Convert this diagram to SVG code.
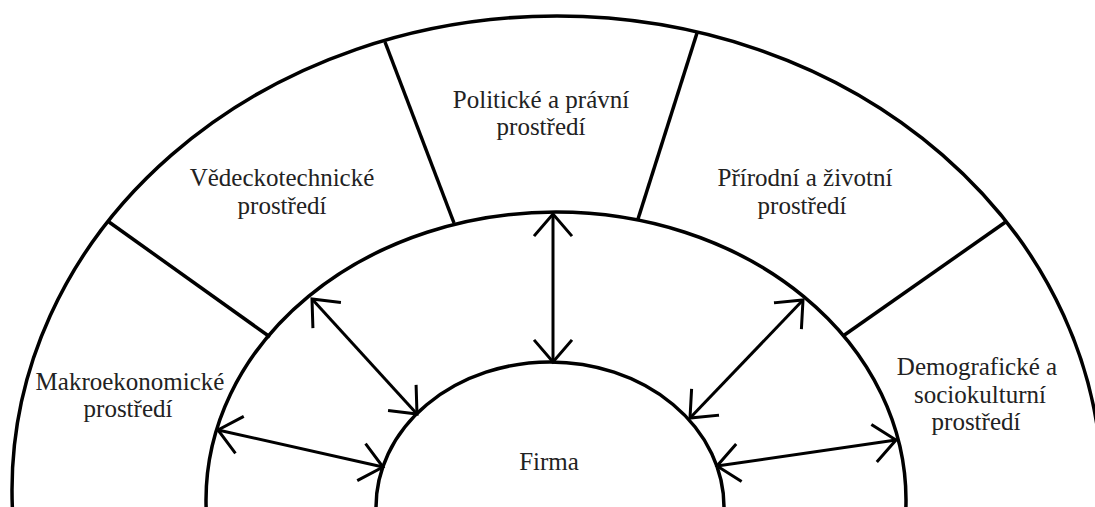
<svg xmlns="http://www.w3.org/2000/svg" width="1095" height="507" viewBox="0 0 1095 507">
  <style>
    .ring { fill: none; stroke: #000; stroke-width: 3.5; }
    .div { stroke: #000; stroke-width: 3.5; }
    .arr { stroke: #000; stroke-width: 3; fill: none; marker-start: url(#head); marker-end: url(#head); }
    .lbl { font-size: 25px; fill: #222; text-anchor: middle; }
  </style>
  <defs>
    <marker id="head" markerUnits="userSpaceOnUse" orient="auto-start-reverse" refX="0" refY="0" markerWidth="60" markerHeight="60" viewBox="-30 -30 60 60" overflow="visible">
      <path d="M -21 -18 L 0 0 L -21 18" fill="none" stroke="#000" stroke-width="3" stroke-linecap="square"/>
    </marker>
  </defs>
  <rect width="1095" height="507" fill="#fff"/>

  <g id="rings">
    <ellipse class="ring" cx="557" cy="490" rx="545" ry="474"/>
    <ellipse class="ring" cx="556" cy="500" rx="350" ry="288"/>
    <ellipse class="ring" cx="550" cy="507" rx="174" ry="145"/>
  </g>

  <g id="dividers">
    <line class="div" x1="109" y1="222" x2="270" y2="337"/>
    <line class="div" x1="385" y1="42" x2="454" y2="223"/>
    <line class="div" x1="697" y1="33" x2="638" y2="219"/>
    <line class="div" x1="1007" y1="221" x2="843" y2="336"/>
  </g>

  <g id="connectors">
    <line class="arr" x1="553" y1="214" x2="553" y2="362"/>
    <line class="arr" x1="312" y1="299" x2="417" y2="414"/>
    <line class="arr" x1="218" y1="430" x2="383" y2="467"/>
    <line class="arr" x1="803" y1="300" x2="690" y2="418"/>
    <line class="arr" x1="896" y1="440" x2="717" y2="466"/>
  </g>

  <g font-family="'Liberation Serif', 'DejaVu Serif', serif">
  <g id="politicke">
    <text class="lbl" x="541" y="108">Politické a právní</text>
    <text class="lbl" x="541" y="135">prostředí</text>
  </g>
  <g id="vedeckotechnicke">
    <text class="lbl" x="282" y="186">Vědeckotechnické</text>
    <text class="lbl" x="282" y="214">prostředí</text>
  </g>
  <g id="prirodni">
    <text class="lbl" x="805" y="186">Přírodní a životní</text>
    <text class="lbl" x="802" y="214">prostředí</text>
  </g>
  <g id="makroekonomicke">
    <text class="lbl" x="130" y="390">Makroekonomické</text>
    <text class="lbl" x="128" y="417">prostředí</text>
  </g>
  <g id="demograficke">
    <text class="lbl" x="977" y="375">Demografické a</text>
    <text class="lbl" x="980" y="403">sociokulturní</text>
    <text class="lbl" x="976" y="430">prostředí</text>
  </g>
  <g id="firma">
    <text class="lbl" x="549" y="470">Firma</text>
  </g>
  </g>
</svg>
